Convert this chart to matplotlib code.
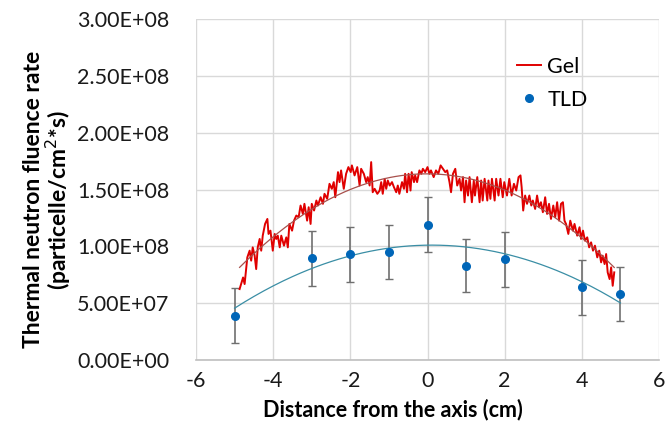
import numpy as np
import matplotlib
matplotlib.use('Agg')
from matplotlib import pyplot as plt
from matplotlib.ticker import FuncFormatter

# Data --------------------------------------------

# TLD measurements (x in cm, rate in particelle/cm2*s)
tldX = [-5, -3, -2, -1, 0, 1, 2, 4, 5]
tldY = [0.39e8, 0.895e8, 0.93e8, 0.95e8, 1.19e8, 0.83e8, 0.886e8, 0.64e8, 0.58e8]
tldErr = [0.24e8, 0.24e8, 0.24e8, 0.24e8, 0.24e8, 0.235e8, 0.24e8, 0.24e8, 0.24e8]

# Gel profile (x in cm, rate in 1E8)
gelX = [-4.87, -4.78, -4.74, -4.67, -4.61, -4.57, -4.53, -4.48, -4.44, -4.40,
        -4.35, -4.31, -4.27, -4.21, -4.15, -4.12, -4.07, -4.01, -3.96, -3.92,
        -3.88, -3.83, -3.79, -3.72, -3.66, -3.62, -3.58, -3.51, -3.46, -3.40,
        -3.34, -3.29, -3.23, -3.19, -3.12, -3.08, -3.03, -3.00, -2.94, -2.88,
        -2.84, -2.77, -2.71, -2.67, -2.60, -2.54, -2.48, -2.43, -2.39, -2.32,
        -2.28, -2.24, -2.17, -2.11, -2.05, -1.99, -1.96, -1.89, -1.82, -1.76,
        -1.72, -1.65, -1.59, -1.55, -1.50, -1.46, -1.42, -1.37, -1.30, -1.24,
        -1.20, -1.16, -1.11, -1.07, -1.03, -0.98, -0.92, -0.87, -0.81, -0.77,
        -0.73, -0.66, -0.61, -0.58, -0.53, -0.49, -0.44, -0.41, -0.35, -0.32,
        -0.27, -0.21, -0.16, -0.12, -0.06, 0.00, 0.05, 0.09, 0.16, 0.22,
        0.28, 0.34, 0.40, 0.46, 0.51, 0.57, 0.61, 0.66, 0.72, 0.77,
        0.83, 0.87, 0.92, 0.96, 1.00, 1.05, 1.09, 1.15, 1.20, 1.23,
        1.29, 1.35, 1.39, 1.43, 1.48, 1.55, 1.58, 1.63, 1.67, 1.74,
        1.78, 1.84, 1.89, 1.95, 1.99, 2.06, 2.12, 2.18, 2.24, 2.30,
        2.36, 2.41, 2.44, 2.48, 2.53, 2.58, 2.64, 2.69, 2.73, 2.79,
        2.84, 2.89, 2.94, 2.99, 3.05, 3.10, 3.15, 3.20, 3.26, 3.31,
        3.36, 3.41, 3.46, 3.51, 3.55, 3.59, 3.65, 3.70, 3.77, 3.81,
        3.88, 3.94, 3.98, 4.03, 4.08, 4.14, 4.19, 4.24, 4.29, 4.34,
        4.40, 4.45, 4.50, 4.54, 4.59, 4.63, 4.67, 4.72, 4.76, 4.80,
        4.84]
gelY = [0.624, 0.726, 0.668, 0.903, 0.962, 0.874, 0.991, 0.918, 0.800, 0.991,
        1.065, 0.962, 1.094, 1.197, 1.241, 1.109, 1.138, 0.962, 1.109, 1.065,
        1.094, 0.991, 1.094, 1.006, 1.079, 0.991, 1.197, 1.138, 1.226, 1.271,
        1.256, 1.359, 1.285, 1.374, 1.226, 1.344, 1.197, 1.374, 1.315, 1.403,
        1.359, 1.432, 1.374, 1.462, 1.418, 1.550, 1.506, 1.565, 1.432, 1.653,
        1.565, 1.668, 1.506, 1.638, 1.697, 1.653, 1.712, 1.624, 1.697, 1.535,
        1.682, 1.638, 1.565, 1.609, 1.535, 1.741, 1.476, 1.506, 1.462, 1.491,
        1.565, 1.462, 1.594, 1.506, 1.579, 1.535, 1.565, 1.521, 1.476, 1.535,
        1.462, 1.565, 1.506, 1.638, 1.476, 1.638, 1.491, 1.653, 1.565, 1.624,
        1.565, 1.668, 1.638, 1.682, 1.653, 1.697, 1.638, 1.668, 1.609, 1.668,
        1.638, 1.712, 1.682, 1.653, 1.668, 1.565, 1.476, 1.638, 1.682, 1.535,
        1.594, 1.491, 1.609, 1.388, 1.579, 1.447, 1.609, 1.388, 1.579, 1.447,
        1.609, 1.388, 1.579, 1.403, 1.594, 1.403, 1.579, 1.418, 1.594, 1.403,
        1.594, 1.447, 1.594, 1.432, 1.565, 1.447, 1.594, 1.447, 1.550, 1.491,
        1.609, 1.624, 1.521, 1.315, 1.447, 1.374, 1.447, 1.359, 1.403, 1.329,
        1.447, 1.344, 1.388, 1.300, 1.432, 1.285, 1.374, 1.241, 1.359, 1.256,
        1.388, 1.226, 1.374, 1.388, 1.226, 1.197, 1.109, 1.226, 1.138, 1.197,
        1.094, 1.168, 1.065, 1.138, 1.050, 1.079, 0.991, 1.035, 0.962, 1.006,
        0.903, 0.962, 0.859, 0.918, 0.844, 0.932, 0.771, 0.712, 0.815, 0.653,
        0.771]

xTicks = [-6, -4, -2, 0, 2, 4, 6]
yTicks = [0, 0.5e8, 1.0e8, 1.5e8, 2.0e8, 2.5e8, 3.0e8]

# Plot --------------------------------------------

plt.rcParams['font.family'] = ['Lato', 'DejaVu Sans']
plt.rcParams['axes.unicode_minus'] = False

fig = plt.figure(figsize=(6.65, 4.25), dpi=100)
ax = fig.add_axes([196/665, 65/425, 463/665, 341/425])

gelYabs = np.array(gelY) * 1e8

# polynomial (order 2) trend lines, like the spreadsheet ones
gelFit = np.polyfit(gelX, gelYabs, 2)
tldFit = np.polyfit(tldX, tldY, 2)
gx = np.linspace(min(gelX), max(gelX), 200)
tx = np.linspace(min(tldX), max(tldX), 200)

ax.plot(gelX, gelYabs, color='#E00000', lw=1.4, label='Gel', zorder=3)
ax.plot(gx, np.polyval(gelFit, gx), color='#A8504C', lw=0.9, zorder=4)
ax.errorbar(tldX, tldY, yerr=tldErr, fmt='none', ecolor='#6F6F6F', elinewidth=1.2,
            capsize=3, capthick=1.0, zorder=2)
ax.plot(tx, np.polyval(tldFit, tx), color='#3A8EA5', lw=0.9, zorder=4)
ax.plot(tldX, tldY, 'o', color='#0066B8', markersize=5.5, label='TLD', zorder=5,
        linestyle='none')

ax.set_xlim(-6, 6)
ax.set_ylim(0, 3.0e8)
ax.set_xticks(xTicks)
ax.set_yticks(yTicks)
ax.yaxis.set_major_formatter(FuncFormatter(lambda v, p: f'{v:.2E}'))
ax.tick_params(axis='both', length=0, labelsize=15.5, colors='#1a1a1a')
ax.tick_params(axis='y', pad=19)
ax.tick_params(axis='x', pad=8)

ax.grid(True, color='#D9D9D9', lw=1)
ax.set_axisbelow(True)
for s in ['left', 'right', 'top']:
    ax.spines[s].set_visible(False)
ax.spines['bottom'].set_color('#BFBFBF')
ax.spines['bottom'].set_linewidth(1.2)

ax.set_xlabel('Distance from the axis (cm)', fontsize=15.5, fontweight='bold')
ax.xaxis.set_label_coords(0.425, -0.113)
ax.set_ylabel('Thermal neutron fluence rate\n(particelle/cm$^{2}$*s)', fontsize=16.5,
              fontweight='bold', linespacing=1.0)
ax.yaxis.set_label_coords(-0.265, 0.47)

leg = ax.legend(loc='upper left', bbox_to_anchor=(0.675, 0.915), frameon=False,
                fontsize=15.5, handlelength=1.1, handletextpad=0.3, labelspacing=0.6,
                borderaxespad=0)

fig.savefig('out.png', dpi=100)
